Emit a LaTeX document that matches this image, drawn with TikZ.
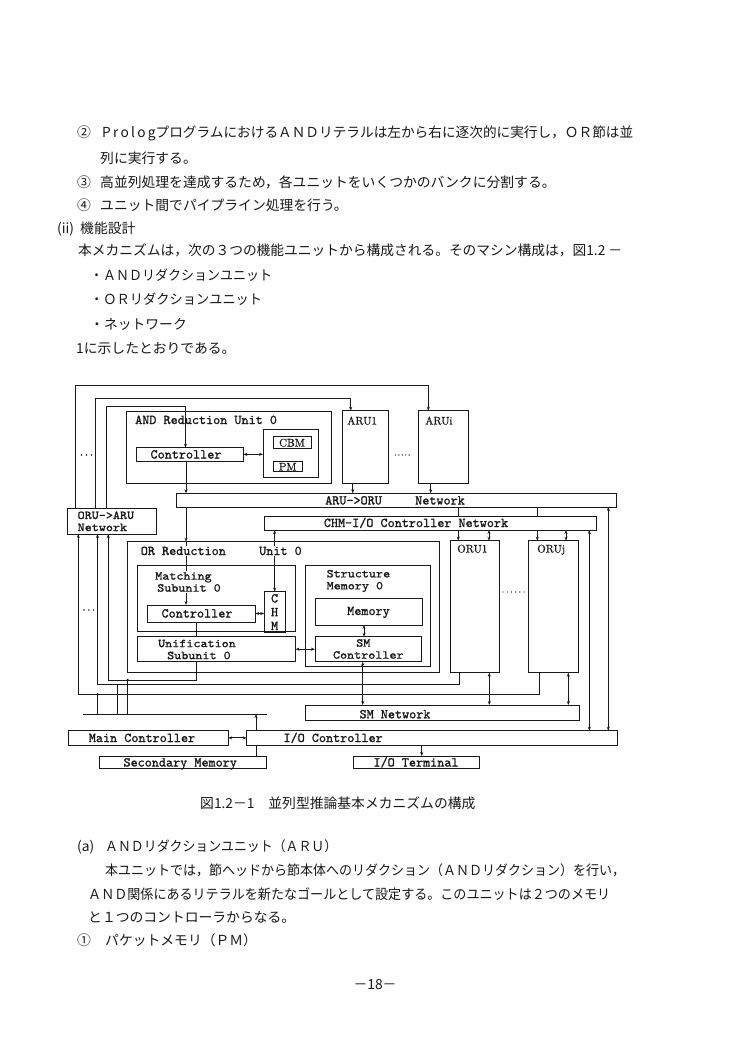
\documentclass[tikz,border=0pt]{standalone}
\usepackage{fontspec}
\usepackage{graphicx}
\usetikzlibrary{arrows.meta}
\newfontfamily\jpfont{Noto Sans CJK JP}
\newfontfamily\dtt{lmmono10-regular.otf}[FakeBold=1.2]
\newfontfamily\dttw{lmmono10-regular.otf}[FakeBold=1.2,FakeStretch=1.12]
\newfontfamily\drm{lmroman10-regular.otf}[FakeBold=0.8]
\definecolor{ink}{gray}{0.1}
\newsavebox\fitbox
\newcommand\fitw[2]{\sbox\fitbox{#2}\resizebox{#1}{\ht\fitbox}{\usebox\fitbox}}
\newcommand\bx[6][]{\node[box,anchor=north west,minimum width={(#4)-(#2)},minimum height={(#5)-(#3)},#1] (#6) at (#2,#3) {};}
\begin{document}
\begin{tikzpicture}[x=1pt,y=-1pt,
  box/.style={draw=ink,line width=1pt,inner sep=0pt,outer sep=0pt},
  ln/.style={draw=ink,line width=0.9pt},
  arr/.style={ln,-{Stealth[length=4pt,width=3pt]}},
  barr/.style={ln,{Stealth[length=4pt,width=3pt]}-{Stealth[length=4pt,width=3pt]}},
  tx/.style={font=\dtt\fontsize{13.5}{14}\selectfont,inner sep=0pt,text=ink},
  tw/.style={font=\dttw\fontsize{12}{12}\selectfont,inner sep=0pt,text=ink},
  rx/.style={font=\drm\fontsize{11}{12}\selectfont,inner sep=0pt,text=ink},
  jp/.style={font=\jpfont\fontsize{13.8}{16}\selectfont,inner sep=0pt,anchor=base west,text=ink},
  wt/.style={fill=white,inner sep=1pt}]
\useasboundingbox[fill=white] (0,0) rectangle (750,1054);

% ---------- text above ----------
\node[jp] (p1a) at (77,138) {②};
\node[jp] (p1b) at (102,138) {\fitw{531pt}{P\,r\,o\,l\,o\,gプログラムにおけるＡＮＤリテラルは左から右に逐次的に実行し，ＯＲ節は並}};
\node[jp] (p2) at (100,163) {列に実行する。};
\node[jp] (p3a) at (77,187) {③};
\node[jp] (p3b) at (100,187) {高並列処理を達成するため，各ユニットをいくつかのバンクに分割する。};
\node[jp] (p4a) at (77,210) {④};
\node[jp] (p4b) at (100,210) {ユニット間でパイプライン処理を行う。};
\node[jp] (p5a) at (57,233) {(ii)};
\node[jp] (p5b) at (80,233) {機能設計};
\node[jp] (p6) at (78,255) {\fitw{544pt}{本メカニズムは，次の３つの機能ユニットから構成される。そのマシン構成は，図1.2 －}};
\node[jp] (p7) at (90,280) {\fitw{182pt}{・ＡＮＤリダクションユニット}};
\node[jp] (p8) at (90,304) {\fitw{172pt}{・ＯＲリダクションユニット}};
\node[jp] (p9) at (90,329) {・ネットワーク};
\node[jp] (p10) at (76,353) {1に示したとおりである。};

% ---------- boxes ----------
\bx{126.7}{411.7}{331}{483.3}{ANDbox}
\bx{136}{447.7}{243.3}{461}{ANDctrl}
\bx{263}{429.3}{318}{477.3}{MemC}
\bx{273}{436.7}{311.5}{448.3}{CBM}
\bx{273}{461.7}{302.5}{471.7}{PM}
\bx{342}{410.7}{388}{483.3}{ARU1}
\bx{418}{410.7}{468.5}{483.3}{ARUi}
\bx{176}{493.3}{616.7}{507}{ARUORU}
\bx{67.3}{508.3}{156.5}{534}{ORUARU}
\bx{264}{516}{596.7}{530}{CHMnet}
\bx{127}{541.7}{439.5}{672.7}{ORbox}
\bx{137}{565.8}{295.8}{631.7}{Match}
\bx{147.8}{605}{255.3}{622}{Mctrl}
\bx{264.3}{591.6}{285}{632.9}{CHM}
\bx{137}{636.7}{295.5}{661.7}{Unif}
\bx{305.3}{565.8}{430}{666.7}{SMem}
\bx{315}{598}{422}{625}{Memory}
\bx{315}{636.7}{421.5}{661.7}{SMctrl}
\bx{450.5}{540.7}{499}{672.7}{ORU1}
\bx{528.5}{540.7}{578.5}{672.7}{ORUj}
\bx{305}{705}{579.7}{720}{SMnet}
\bx{68.3}{730.7}{228.3}{745}{MainC}
\bx{246.7}{730.7}{617}{745}{IOC}
\bx{99.3}{756}{266}{768.3}{SecM}
\bx{353.3}{756}{479.3}{768.3}{IOT}

% ---------- named coordinates ----------
\coordinate (v1) at (75.7,0);  \coordinate (v2) at (95,0);    \coordinate (v3) at (106.2,0);
\coordinate (v4) at (185.5,0); \coordinate (v5) at (350.7,0); \coordinate (v6) at (428.3,0);
\coordinate (h1) at (0,385);   \coordinate (h2) at (0,398.3); \coordinate (h3) at (0,406.7);
\coordinate (c186) at (186,0); \coordinate (c352) at (352.7,0); \coordinate (c430) at (430.7,0);
\coordinate (c458) at (458.3,0); \coordinate (c537) at (537.3,0);
\coordinate (c489) at (489,0); \coordinate (c566) at (566,0);
\coordinate (c589) at (589.3,0); \coordinate (c608) at (608.3,0);
\coordinate (c196) at (196,0); \coordinate (c364) at (364,0); \coordinate (c363) at (362.7,0);
\coordinate (d489) at (489.3,0); \coordinate (d568) at (568.3,0);
\coordinate (b1) at (78.3,0); \coordinate (b2) at (97.5,0); \coordinate (b3) at (108.3,0);
\coordinate (u1) at (539,0); \coordinate (u2) at (459.3,0); \coordinate (u3) at (196.7,0);
\coordinate (g1) at (0,694.3); \coordinate (g2) at (0,684.3); \coordinate (g3) at (0,680);
\coordinate (t1) at (97.7,0); \coordinate (t2) at (117.3,0); \coordinate (t3) at (127.7,0);
\coordinate (c256) at (256,0); \coordinate (c422) at (421.7,0);
\coordinate (busL) at (83.3,714); \coordinate (busR) at (266.7,714);

% ---------- connectors ----------
% feedback to AND units
\draw[arr] (ORUARU.north -| v1) -- (h1 -| v1) -- (h1 -| v6) -- (ARUi.north -| v6);
\draw[arr] (ORUARU.north -| v2) -- (h2 -| v2) -- (h2 -| v5) -- (ARU1.north -| v5);
\draw[arr] (ORUARU.north -| v3) -- (h3 -| v3) -- (h3 -| v4) -- (ANDctrl.north -| v4);
% AND unit internals and outputs
\draw[barr] (ANDctrl.east) -- (ANDctrl.east -| MemC.west);
\draw[arr] (ANDctrl.south -| c186) -- (ARUORU.north -| c186);
\draw[arr] (ARU1.south -| c352) -- (ARUORU.north -| c352);
\draw[arr] (ARUi.south -| c430) -- (ARUORU.north -| c430);
% ARU->ORU network to OR units
\draw[arr] (ARUORU.south -| c186) -- (ORbox.north -| c186);
\draw[arr] (ORbox.north -| c186) -- (Mctrl.north -| c186);
\draw[ln] (ARUORU.south -| c458) -- (CHMnet.north -| c458);
\draw[arr] (CHMnet.south -| c458) -- (ORU1.north -| c458);
\draw[ln] (ARUORU.south -| c537) -- (CHMnet.north -| c537);
\draw[arr] (CHMnet.south -| c537) -- (ORUj.north -| c537);
% CHM-I/O controller network
\draw[barr] (CHMnet.south -| c489) -- (ORU1.north -| c489);
\draw[barr] (CHMnet.south -| c566) -- (ORUj.north -| c566);
\draw[barr] (CHMnet.south -| CHM.north) -- (CHM.north);
\draw[barr] (CHMnet.south -| c589) -- (IOC.north -| c589);
\draw[barr] (ARUORU.south -| c608) -- (IOC.north -| c608);
% OR unit internals
\draw[barr] (Mctrl.east) -- (Mctrl.east -| CHM.west);
\draw[ln] (Mctrl.south -| c196) -- (Unif.north -| c196);
\draw[barr] (Unif.east) -- (SMctrl.west);
\draw[barr] (Memory.south -| c364) -- (SMctrl.north -| c364);
\draw[barr] (SMctrl.south -| c363) -- (SMnet.north -| c363);
\draw[barr] (ORU1.south -| d489) -- (SMnet.north -| d489);
\draw[barr] (ORUj.south -| d568) -- (SMnet.north -| d568);
% OR outputs back to ORU->ARU network
\draw[arr] (ORUj.south -| u1) -- (g1 -| u1) -- (g1 -| b1) -- (ORUARU.south -| b1);
\draw[arr] (ORU1.south -| u2) -- (g2 -| u2) -- (g2 -| b2) -- (ORUARU.south -| b2);
\draw[arr] (Unif.south -| u3) -- (g3 -| u3) -- (g3 -| b3) -- (ORUARU.south -| b3);
% bus to main controller side
\draw[ln] (busL) -- (busR);
\draw[ln] (g1 -| t1) -- (busL -| t1);
\draw[ln] (g2 -| t2) -- (busL -| t2);
\draw[ln] (g3 -| t3) -- (busL -| t3);
\fill[ink] (g1 -| t1) circle (1.3);
\fill[ink] (g3 -| t3) circle (1.3);
\draw[arr] (IOC.north -| c256) -- (busL -| c256);
\draw[ln] (IOC.south -| c256) -- (SecM.north -| c256);
\draw[arr] (IOC.south -| c422) -- (IOT.north -| c422);
\draw[barr] (MainC.east) -- (IOC.west);

% dots
\foreach \i in {0,1,2} \fill[ink] (81.5+\i*5,455) circle (0.8);
\foreach \i in {0,...,4} \fill[ink] (395.5+\i*3.4,455) circle (0.7);
\foreach \i in {0,1,2} \fill[ink] (84+\i*4.8,610) circle (0.8);
\foreach \i in {0,...,5} \fill[ink] (503+\i*4.2,592) circle (0.7);

% ---------- diagram labels ----------
\node[tx,anchor=base west] (lAND) at (135,424) {AND Reduction Unit 0};
\node[tx,anchor=base] (lANDc) at (186,458.5) {Controller};
\node[rx,anchor=base] (lCBM) at (292,446.5) {CBM};
\node[rx,anchor=base] (lPM) at (287.7,470.5) {PM};
\node[rx,anchor=base west] (lARU1) at (347,424.5) {ARU1};
\node[rx,anchor=base west] (lARUi) at (425,424.5) {ARUi};
\node[tx,anchor=base west] (lAO1) at (325,504.5) {ARU->ORU};
\node[tx,anchor=base west] (lAO2) at (415,504.5) {Network};
\node[tw,align=left] (lOA) at (105.9,521.3) {ORU->ARU\\Network};
\node[tx,anchor=base] (lCHMn) at (416,527) {CHM-I/O Controller Network};
\node[tx,wt,anchor=base west] (lOR1) at (139.6,555) {OR Reduction};
\node[tx,wt,anchor=base west] (lOR2) at (258,555) {Unit 0};
\node[tw,wt,align=left] (lMS) at (188,582) {Matching\\\hspace*{2pt}Subunit 0};
\node[tx,anchor=base] (lMc) at (197,617.5) {Controller};
\node[tx,anchor=base] (lC) at (274.6,602.5) {C};
\node[tx,anchor=base] (lH) at (274.6,616.2) {H};
\node[tx,anchor=base] (lM) at (274.6,630) {M};
\node[tw,align=left] (lU) at (197,649.5) {Unification\\\hspace*{9pt}Subunit 0};
\node[tw,align=left] (lS) at (358.4,581) {Structure\\Memory 0};
\node[tx,anchor=base] (lMem) at (368.5,615) {Memory};
\node[tw,align=center] (lSM) at (368.3,649) {SM\hspace*{10pt}\\Controller};
\node[rx,anchor=base west] (lORU1) at (457,552.5) {ORU1};
\node[rx,anchor=base west] (lORUj) at (537,552.5) {ORUj};
\node[tx,anchor=base] (lSMn) at (395,718.3) {SM Network};
\node[tx,anchor=base] (lMain) at (142,742) {Main Controller};
\node[tx,anchor=base west] (lIOC) at (283.3,742) {I/O Controller};
\node[tx,anchor=base west] (lSec) at (123.3,766.5) {Secondary Memory};
\node[tx,anchor=base west] (lIOT) at (373.3,766.5) {I/O Terminal};

% ---------- text below ----------
\node[jp] (cap) at (200,808) {図1.2－1　並列型推論基本メカニズムの構成};
\node[jp] (qa1) at (77,851) {(a)};
\node[jp] (qa2) at (105,851) {\fitw{232pt}{ＡＮＤリダクションユニット（ＡＲＵ）}};
\node[jp] (q2) at (105,875) {\fitw{520pt}{本ユニットでは，節ヘッドから節本体へのリダクション（ＡＮＤリダクション）を行い，}};
\node[jp] (q3) at (88,899) {\fitw{522pt}{ＡＮＤ関係にあるリテラルを新たなゴールとして設定する。このユニットは２つのメモリ}};
\node[jp] (q4) at (88,922) {と１つのコントローラからなる。};
\node[jp] (q5a) at (77,945) {①};
\node[jp] (q5b) at (105,945) {パケットメモリ（ＰＭ）};
\node[jp,anchor=base] (pg) at (375,989) {－18－};
\end{tikzpicture}
\end{document}
